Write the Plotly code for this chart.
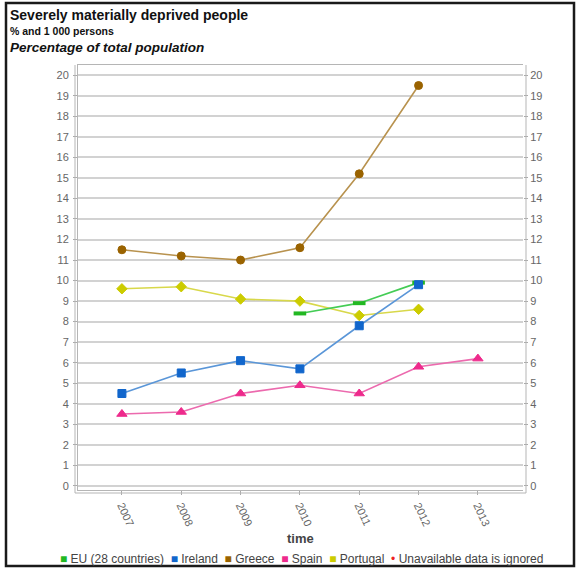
import plotly.graph_objects as go

years = [2007, 2008, 2009, 2010, 2011, 2012, 2013]
eu28 = [None, None, None, 8.4, 8.9, 9.9, None]
ireland = [4.5, 5.5, 6.1, 5.7, 7.8, 9.8, None]
greece = [11.5, 11.2, 11.0, 11.6, 15.2, 19.5, None]
spain = [3.5, 3.6, 4.5, 4.9, 4.5, 5.8, 6.2]
portugal = [9.6, 9.7, 9.1, 9.0, 8.3, 8.6, None]
y_ticks = list(range(0, 21))

series = [
    ("EU (28 countries)", eu28, "#22b822", "#44cc55", "line-ew", 9),
    ("Ireland", ireland, "#1166cc", "#5a96d8", "square", 8),
    ("Greece", greece, "#9a6300", "#b8924e", "circle", 8),
    ("Spain", spain, "#ee2a8c", "#ec6aae", "triangle-up", 9),
    ("Portugal", portugal, "#cccc00", "#d8d84a", "diamond", 8),
]

fig = go.Figure()
for name, vals, mc, lc, sym, sz in [series[2], series[4], series[0], series[3], series[1]]:
    marker = dict(symbol=sym, size=sz, color=mc, line=dict(color=mc, width=1))
    if sym == "line-ew":
        marker = dict(symbol=sym, size=sz, color=mc, line=dict(color=mc, width=4))
    fig.add_trace(go.Scatter(
        x=years, y=vals, mode="lines+markers", name=name,
        line=dict(color=lc, width=1.6), marker=marker,
        connectgaps=False, showlegend=False, hoverinfo="x+y+name"))

fig.add_trace(go.Scatter(x=[None], y=[None], yaxis="y2", showlegend=False, hoverinfo="skip"))

axis_font = dict(family="Liberation Sans, Arial, sans-serif", size=11, color="#666666")

fig.update_layout(
    width=580, height=568,
    margin=dict(l=78, r=57, t=65, b=78),
    paper_bgcolor="white", plot_bgcolor="white",
    font=dict(family="Liberation Sans, Arial, sans-serif", color="#222222"),
    xaxis=dict(
        range=[2006.26, 2013.76], tickmode="array", tickvals=years,
        ticktext=[str(y) for y in years], tickangle=65,
        ticks="outside", ticklen=4, tickcolor="#aaaaaa",
        showgrid=False, zeroline=False, showline=True, mirror=True,
        linecolor="#b5b5b5", linewidth=1, tickfont=axis_font,
    ),
    yaxis=dict(
        range=[-0.2, 20.5], tickmode="array", tickvals=y_ticks,
        ticks="outside", ticklen=4, tickcolor="#aaaaaa",
        showgrid=True, gridcolor="#d2d2d2", gridwidth=1.5,
        zeroline=False, showline=True, linecolor="#b5b5b5", linewidth=1,
        tickfont=axis_font, ticklabelstandoff=2,
    ),
    yaxis2=dict(
        range=[-0.2, 20.5], tickmode="array", tickvals=y_ticks,
        overlaying="y", side="right", ticks="outside", ticklen=4,
        tickcolor="#aaaaaa", showgrid=False, zeroline=False,
        showline=False, tickfont=axis_font,
    ),
)

W, H = 445.0, 425.0
def px(dx):
    return dx / W
def py(dy):
    return dy / H

shapes = [
    dict(type="line", xref="paper", yref="paper", x0=-px(3), x1=-px(3), y0=-py(3), y1=1, line=dict(color="#b5b5b5", width=1)),
    dict(type="line", xref="paper", yref="paper", x0=1 + px(3), x1=1 + px(3), y0=-py(3), y1=1, line=dict(color="#b5b5b5", width=1)),
    dict(type="line", xref="paper", yref="paper", x0=-px(3), x1=1 + px(3), y0=-py(3), y1=-py(3), line=dict(color="#b5b5b5", width=1)),
    dict(type="rect", xref="paper", yref="paper",
         x0=px(6 - 78), x1=px(574 - 78), y0=-py(566 - 490), y1=1 + py(65 - 3),
         line=dict(color="#1a1a1a", width=2.5)),
]
fig.update_layout(shapes=shapes)

def yp(pix):
    return 1 + (65 - pix) / H

annotations = [
    dict(text="<b>Severely materially deprived people</b>", x=px(8 - 78), y=yp(15),
         font=dict(size=14, color="#111111")),
    dict(text="<b>% and 1 000 persons</b>", x=px(8 - 78), y=yp(31),
         font=dict(size=10.5, color="#111111")),
    dict(text="<b><i>Percentage of total population</i></b>", x=px(8 - 78), y=yp(48),
         font=dict(size=13.5, color="#111111")),
]
for a in annotations:
    a.update(xref="paper", yref="paper", xanchor="left", yanchor="middle", showarrow=False)

annotations.append(dict(text="<b>time</b>", x=px(300 - 78), y=yp(538), xref="paper", yref="paper",
                        xanchor="center", yanchor="middle", showarrow=False,
                        font=dict(size=13, color="#444444")))

legend_parts = []
for name, vals, mc, lc, sym, sz in series:
    legend_parts.append(f"<span style='color:{mc}'>■</span> {name}")
legend_parts.append("<span style='color:#ee2222'>•</span> Unavailable data is ignored")
annotations.append(dict(text="  ".join(legend_parts), x=px(301 - 78), y=yp(559),
                        xref="paper", yref="paper", xanchor="center", yanchor="middle",
                        showarrow=False, font=dict(size=12, color="#444444")))
fig.update_layout(annotations=annotations)

fig.write_html("out.html", config={"displayModeBar": False},
               post_script="document.body.style.margin='0';document.body.style.overflow='hidden';")
